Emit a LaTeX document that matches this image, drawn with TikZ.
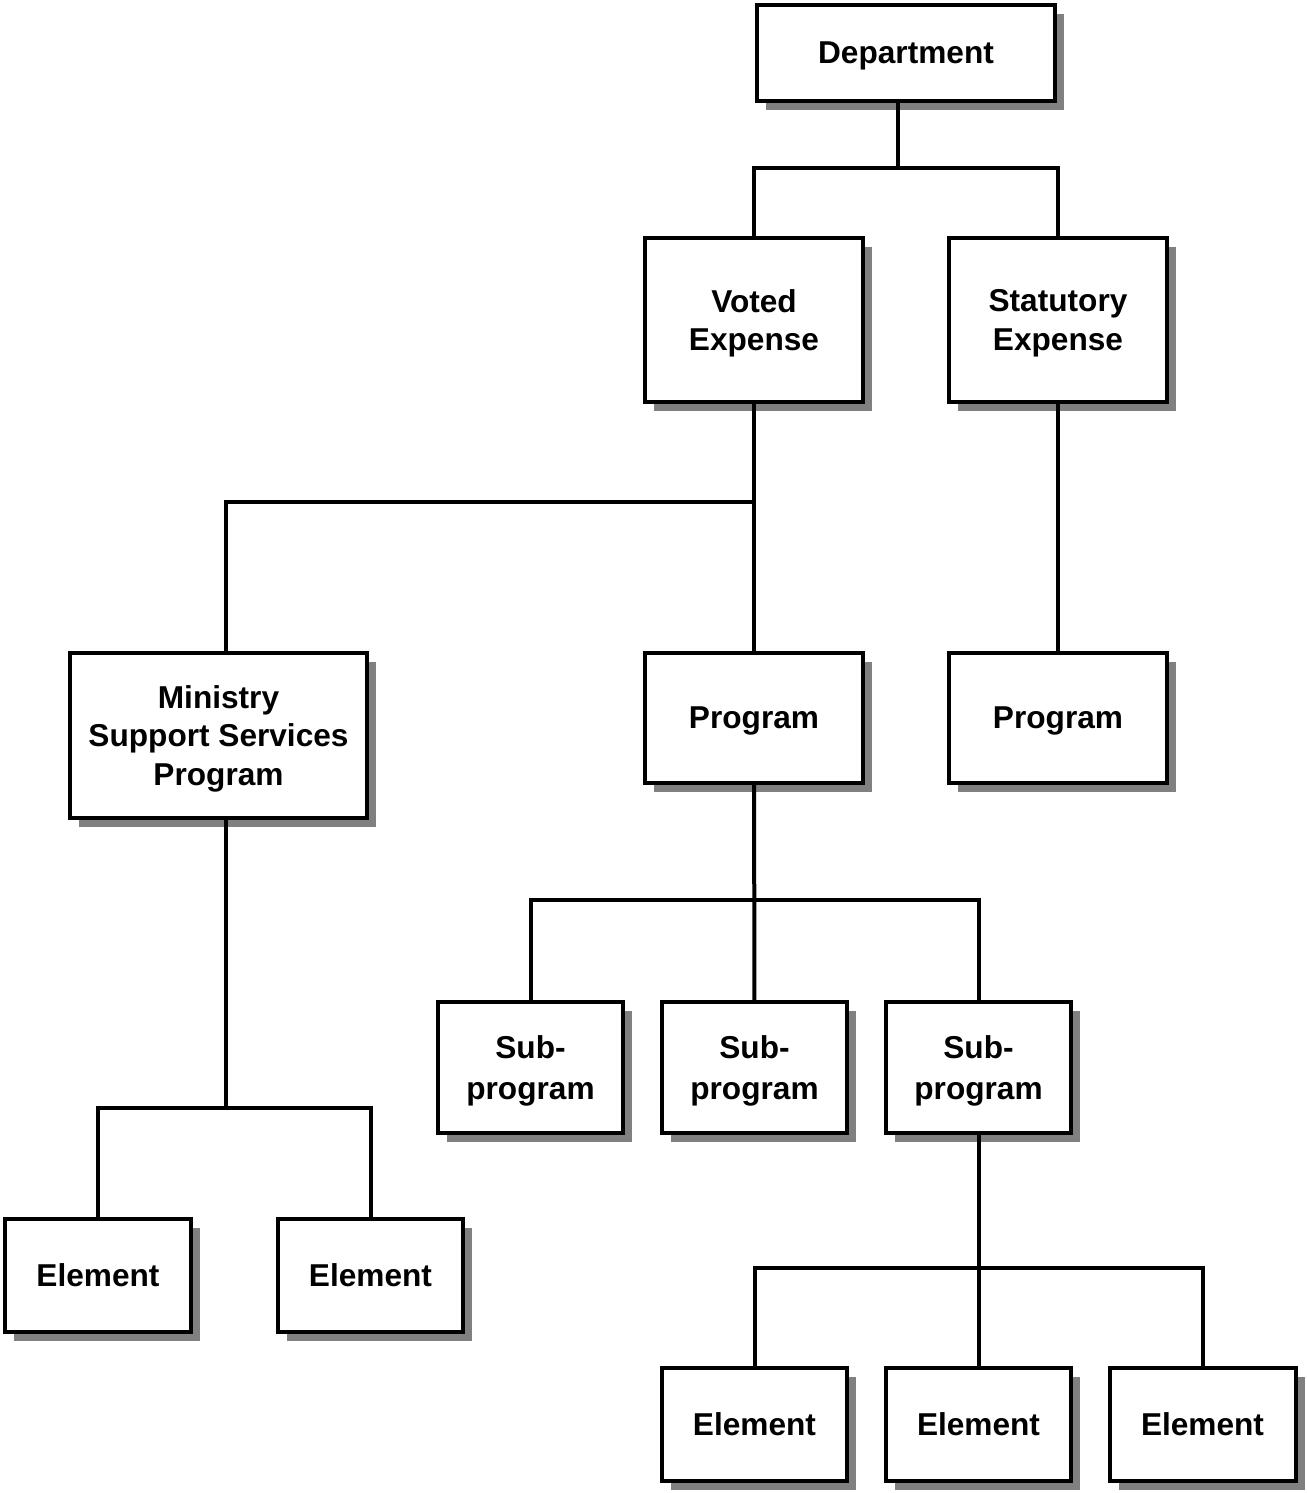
\documentclass[tikz,border=0pt]{standalone}
\usepackage{fontspec}
\setmainfont{Liberation Sans}
\usetikzlibrary{shadows}
\tikzstyle{box}=[draw,line width=0.08cm,fill=white,align=center,inner sep=0pt,text depth=0pt,
  font=\fontsize{18}{22}\selectfont\bfseries,
  drop shadow={shadow xshift=0.18cm,shadow yshift=-0.18cm,fill=gray,opacity=1}]
\tikzstyle{boxdept}=[box,minimum width=5.96cm,minimum height=1.92cm]
\tikzstyle{boxexp}=[box,minimum width=4.36cm,minimum height=3.28cm]
\tikzstyle{boxprog}=[box,minimum width=4.36cm,minimum height=2.6cm]
\tikzstyle{boxsub}=[box,minimum width=3.7cm,minimum height=2.62cm,font=\fontsize{18}{23.5}\selectfont\bfseries]
\tikzstyle{boxel}=[box,minimum width=3.72cm,minimum height=2.26cm]
\begin{document}
\begin{tikzpicture}[x=0.02cm,y=-0.02cm,line width=0.08cm]
    \useasboundingbox (0,0) rectangle (1306,1493);
    \node[boxdept] (dept) at (906,53) {Department};
    \node[boxexp] (voted) at (754,320) {Voted\\Expense};
    \node[boxexp] (stat) at (1058,320) {Statutory\\Expense};
    \node[box,minimum width=5.94cm,minimum height=3.3cm] (msp) at (218.5,735.5) {Ministry\\Support Services\\Program};
    \node[boxprog] (prog) at (754,718) {Program};
    \node[boxprog] (sprog) at (1058,718) {Program};
    \node[boxsub] (sub1) at (530.5,1067.5) {Sub-\\program};
    \node[boxsub] (sub2) at (754.5,1067.5) {Sub-\\program};
    \node[boxsub] (sub3) at (978.5,1067.5) {Sub-\\program};
    \node[boxel] (el1) at (98,1275.5) {Element};
    \node[boxel] (el2) at (370.5,1275.5) {Element};
    \node[boxel] (el3) at (754.5,1424.5) {Element};
    \node[boxel] (el4) at (978.5,1424.5) {Element};
    \node[boxel] (el5) at (1202.5,1424.5) {Element};

    \coordinate (jdept) at (898,168);
    \coordinate (jmsp) at (226,502);
    \coordinate (jprog) at (754,900);
    \coordinate (jel) at (226,1108);
    \coordinate (jsub) at (978,1268);

    \draw (dept.south -| jdept) -- (jdept);
    \draw (voted) |- (jdept) -| (stat);
    \draw (jmsp |- msp.north) -- (jmsp) -- (jmsp -| voted);
    \draw (sub1) |- (jprog) -| (sub3);
    \draw (jel |- msp.south) -- (jel);
    \draw (el1) |- (jel) -| (el2);
    \draw (el3) |- (jsub) -| (el5);

    \foreach \from/\to in {voted/prog,stat/sprog,prog/sub2,sub3/el4}
    \draw (\from) -- (\to);
\end{tikzpicture}
\end{document}
